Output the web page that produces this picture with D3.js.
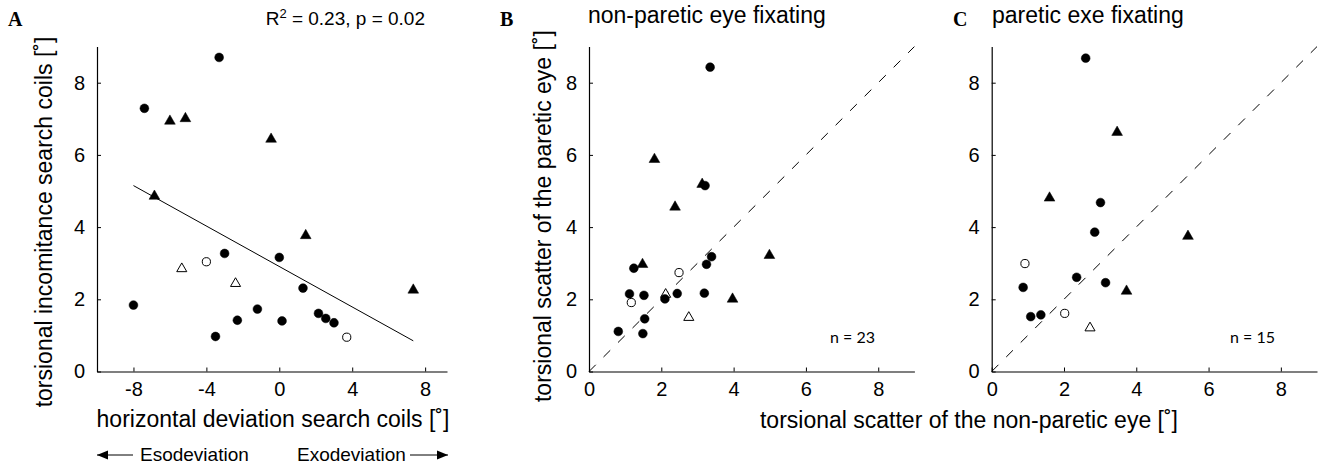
<!DOCTYPE html>
<html>
<head>
<meta charset="utf-8">
<script src="https://cdn.jsdelivr.net/npm/d3@7"></script>
<style>
    html, body { margin: 0; padding: 0; background: #fff; }
    svg text { font-family: "Liberation Sans", Arial, sans-serif; fill: #000; }
</style>
</head>
<body>
<div id="render-zone"></div>
<script>
/* symbols: fc = filled circle, ft = filled triangle,
 * oc = open circle, ot = open triangle */

/* panel A: horizontal deviation vs torsional incomitance */
var aX   = [-3.3, -7.4, -6.0, -5.15, -0.45, -6.85, 1.45, -3.0, -4.0, -5.35, 0.0, -2.4, 1.3, 7.35, -8.0, -1.2, -2.3, 0.15, 2.15, 2.55, 3.0, -3.5, 3.7];
var aY   = [8.70, 7.29, 6.95, 7.02, 6.45, 4.87, 3.78, 3.27, 3.04, 2.86, 3.16, 2.45, 2.31, 2.27, 1.84, 1.73, 1.42, 1.40, 1.61, 1.47, 1.35, 0.97, 0.95];
var aSym = ["fc","fc","ft","ft","ft","ft","ft","fc","oc","ot","fc","ot","fc","ft","fc","fc","fc","fc","fc","fc","fc","fc","oc"];
var fitX = [-8.0, 7.35];
var fitY = [5.15, 0.85];

/* panel B: non-paretic eye fixating */
var bX   = [3.35, 1.81, 3.13, 3.21, 2.38, 4.99, 3.39, 3.25, 1.48, 1.24, 2.49, 1.12, 1.52, 2.12, 2.10, 2.44, 3.19, 3.97, 1.17, 2.76, 1.54, 0.81, 1.49];
var bY   = [8.43, 5.89, 5.20, 5.15, 4.57, 3.23, 3.18, 2.97, 2.98, 2.86, 2.74, 2.15, 2.11, 2.15, 2.01, 2.16, 2.17, 2.02, 1.91, 1.51, 1.46, 1.11, 1.05];
var bSym = ["fc","ft","ft","fc","ft","ft","fc","fc","ft","fc","oc","fc","fc","ot","fc","fc","fc","ft","oc","ot","fc","fc","fc"];

/* panel C: paretic eye fixating */
var cX   = [2.60, 3.47, 1.60, 3.01, 2.85, 5.43, 0.92, 0.87, 2.35, 3.15, 3.73, 1.08, 1.36, 2.02, 2.72];
var cY   = [8.68, 6.64, 4.82, 4.68, 3.86, 3.76, 2.99, 2.33, 2.61, 2.46, 2.24, 1.52, 1.57, 1.61, 1.22];
var cSym = ["fc","ft","ft","fc","fc","ft","oc","fc","fc","fc","ft","fc","fc","oc","ot"];

var aTicksX = [-8, -4, 0, 4, 8];
var bcTicks = [0, 2, 4, 6, 8];
var yTicks  = [0, 2, 4, 6, 8];

(function( w ) {

"use strict";

var W = 1319, H = 466,
    svg = d3.select("#render-zone").append("svg")
        .attr("width", W).attr("height", H),
    yTop = 46.6, yBot = 371.5,

    _panels = [
        { x : aX, y : aY, s : aSym, dom : [-10, 9.2], rng : [97, 447],      ticks : aTicksX },
        { x : bX, y : bY, s : bSym, dom : [0, 9],     rng : [589, 914.4],   ticks : bcTicks, diag : true },
        { x : cX, y : cY, s : cSym, dom : [0, 9],     rng : [991.7, 1317],  ticks : bcTicks, diag : true }
    ],

    /* _marker
     * appends one marker into the group at px,py
     */
    _marker = function( g, sym, px, py ) {
        var filled = sym.charAt(0) === "f";
        if( sym.charAt(1) === "c" ){
            g.append("circle")
                .attr("cx", px).attr("cy", py)
                .attr("r", filled ? 4.4 : 4.1)
                .attr("fill", filled ? "#000" : "#fff")
                .attr("stroke", "#000")
                .attr("stroke-width", filled ? 0.5 : 1);
        } else {
            g.append("path")
                .attr("d", d3.symbol().type(d3.symbolTriangle).size(filled ? 50 : 44)())
                .attr("transform", "translate(" + px + "," + (py + 0.5) + ")")
                .attr("fill", filled ? "#000" : "#fff")
                .attr("stroke", "#000")
                .attr("stroke-width", filled ? 0.5 : 1);
        }
    },

    _drawPanel = function( p ) {
        var x = d3.scaleLinear().domain(p.dom).range(p.rng),
            y = d3.scaleLinear().domain([0, 9]).range([yBot, yTop]),
            g = svg.append("g"), i;

        p.xs = x; p.ys = y;

        /* axes, ticks inward */
        var xa = g.append("g").attr("transform", "translate(0," + yBot + ")")
            .call(d3.axisBottom(x).tickValues(p.ticks).tickSizeInner(-4).tickSizeOuter(0).tickPadding(10));
        var ya = g.append("g").attr("transform", "translate(" + p.rng[0] + ",0)")
            .call(d3.axisLeft(y).tickValues(yTicks).tickSizeInner(-4).tickSizeOuter(0).tickPadding(12));

        [xa, ya].forEach(function( a ){
            a.select(".domain").attr("stroke", "#000").attr("stroke-width", 1.2);
            a.selectAll(".tick line").attr("stroke", "#000");
            a.selectAll(".tick text")
                .attr("font-size", 20)
                .attr("font-family", "Liberation Sans, Arial, sans-serif")
                .attr("fill", "#000");
        });
        xa.selectAll(".tick text").text(function( d ){ return d < 0 ? "-" + Math.abs(d) : d; });

        if( p.diag ){
            g.append("line")
                .attr("x1", x(0)).attr("y1", y(0))
                .attr("x2", x(9)).attr("y2", y(9))
                .attr("stroke", "#000")
                .attr("stroke-width", 1)
                .attr("stroke-dasharray", "9.5,11");
        }

        for( i = 0; i < p.x.length; i++ ){
            _marker( g, p.s[i], x(p.x[i]), y(p.y[i]) );
        }
        return g;
    },

    _text = function( str, px, py, opts ) {
        var t = svg.append("text").attr("x", px).attr("y", py).text(str);
        opts = opts || {};
        t.attr("font-size", opts.size || 20);
        if( opts.anchor ){ t.attr("text-anchor", opts.anchor); }
        if( opts.rot ){ t.attr("transform", "rotate(-90," + px + "," + py + ")"); }
        if( opts.bold ){ t.attr("font-weight", "bold").style("font-family", "'Liberation Serif', 'Times New Roman', serif"); }
        if( opts.family ){ t.style("font-family", opts.family); }
        return t;
    };

var gA = _drawPanel( _panels[0] ),
    pA = _panels[0];

/* regression line in A */
gA.append("line")
    .attr("x1", pA.xs(fitX[0])).attr("y1", pA.ys(fitY[0]))
    .attr("x2", pA.xs(fitX[1])).attr("y2", pA.ys(fitY[1]))
    .attr("stroke", "#000")
    .attr("stroke-width", 1);

_drawPanel( _panels[1] );
_drawPanel( _panels[2] );

/* panel letters + titles */
_text("A", 8, 26, { bold : true, size : 20 });
_text("B", 500, 26, { bold : true, size : 20 });
_text("C", 953, 26, { bold : true, size : 20 });

var r2 = _text("R", 425, 25, { size : 19, anchor : "end" });
r2.text(null);
r2.append("tspan").text("R");
r2.append("tspan").attr("dy", -7).attr("font-size", 13).text("2");
r2.append("tspan").attr("dy", 7).text(" = 0.23, p = 0.02");

_text("non-paretic eye fixating", 588, 23, { size : 23 });
_text("paretic exe fixating", 992, 23, { size : 23 });

/* axis titles */
_text("torsional incomitance search coils [\u02DA]", 52, 222, { size : 23, anchor : "middle", rot : true });
_text("horizontal deviation search coils [\u02DA]", 273, 427, { size : 23, anchor : "middle" });
_text("torsional scatter of the paretic eye [\u02DA]", 551, 216, { size : 23, anchor : "middle", rot : true });
_text("torsional scatter of the non-paretic eye [\u02DA]", 969, 428, { size : 23, anchor : "middle" });

_text("n = 23", 830, 343, { size : 16, family : "Lato, sans-serif" });
_text("n = 15", 1230, 343, { size : 16, family : "Lato, sans-serif" });

/* eso / exo arrows under A */
var defs = svg.append("defs");
defs.append("marker")
    .attr("id", "ah").attr("viewBox", "0 0 10 10")
    .attr("refX", 10).attr("refY", 5)
    .attr("markerWidth", 11).attr("markerHeight", 11)
    .attr("markerUnits", "userSpaceOnUse")
    .attr("orient", "auto")
  .append("path").attr("d", "M0,1 L10,5 L0,9 Z").attr("fill", "#000");

svg.append("line").attr("x1", 133).attr("y1", 455).attr("x2", 97).attr("y2", 455)
    .attr("stroke", "#000").attr("stroke-width", 1).attr("marker-end", "url(#ah)");
svg.append("line").attr("x1", 410).attr("y1", 455).attr("x2", 448).attr("y2", 455)
    .attr("stroke", "#000").attr("stroke-width", 1).attr("marker-end", "url(#ah)");

_text("Esodeviation", 140, 461, { size : 19 });
_text("Exodeviation", 297, 461, { size : 19 });

})( window );
</script>
</body>
</html>
